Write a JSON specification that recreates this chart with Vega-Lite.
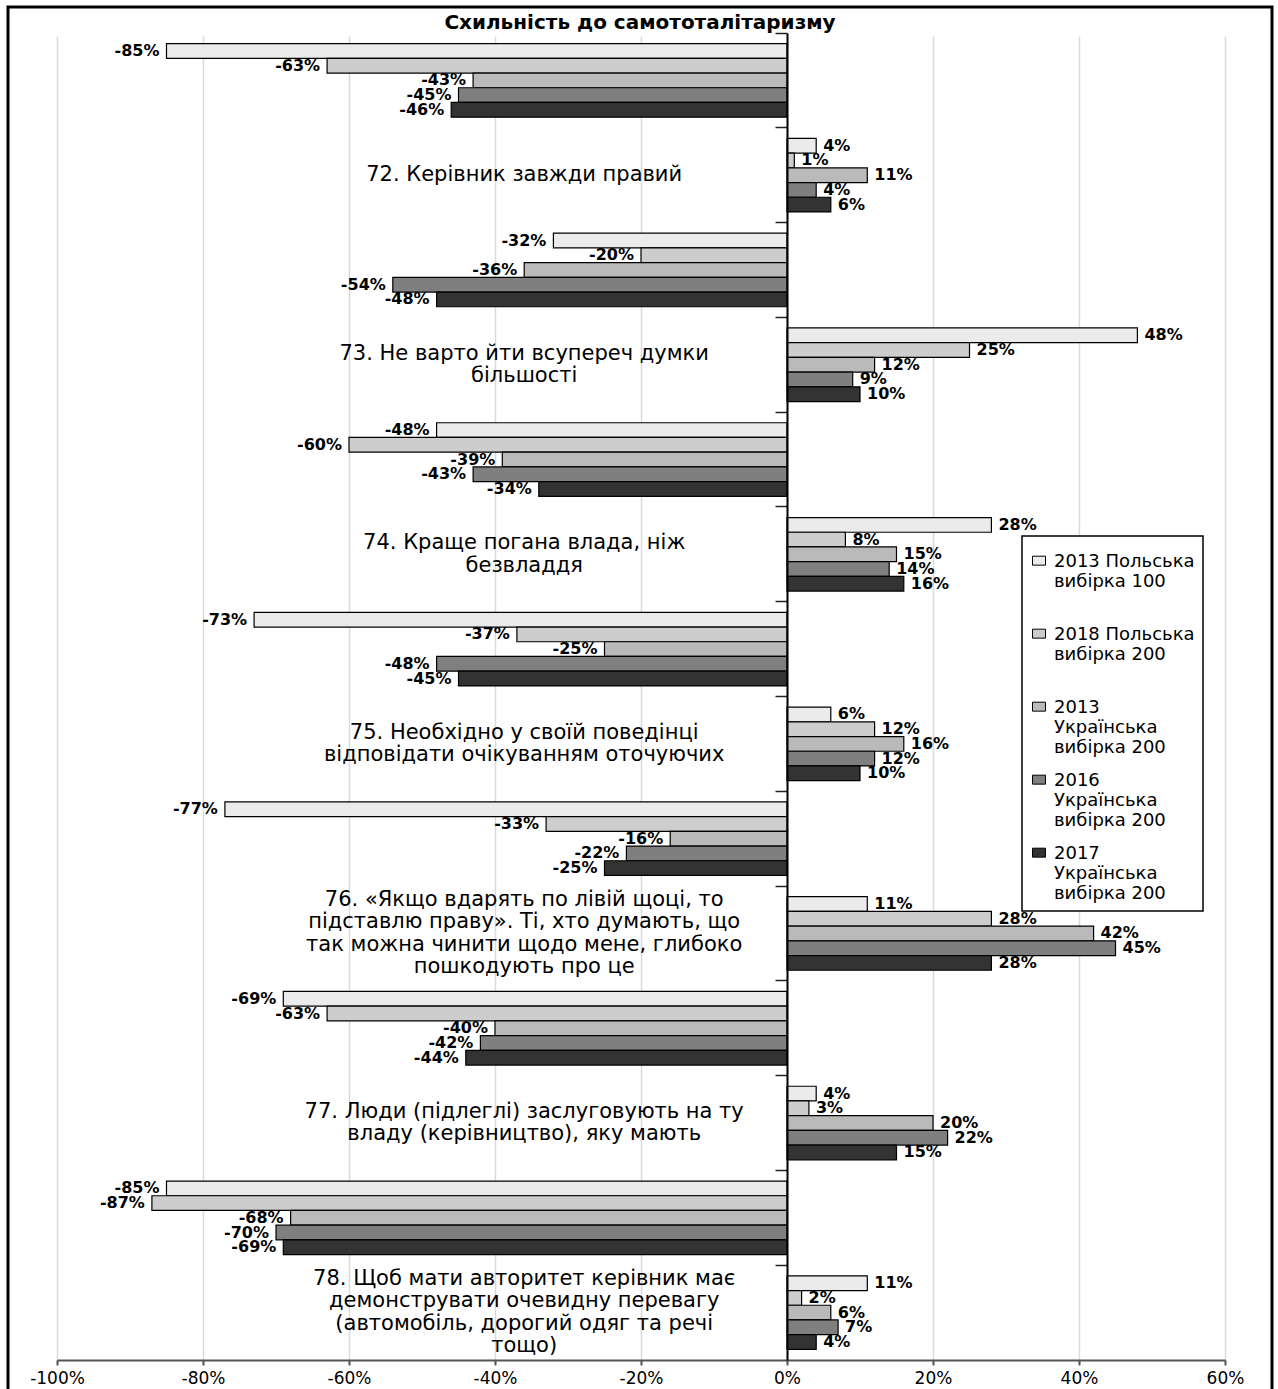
{
  "$schema": "https://vega.github.io/schema/vega-lite/v6.json",
  "width": 1264,
  "height": 1382,
  "autosize": {"type": "none"},
  "padding": {"left": 8, "top": 7, "right": 6, "bottom": 0},
  "background": "white",
  "title": {
    "text": "Схильність до самототалітаризму",
    "font": "DejaVu Sans",
    "fontSize": 20,
    "fontWeight": "bold",
    "color": "black",
    "anchor": "middle",
    "frame": "group",
    "offset": -26
  },
  "config": {
    "view": {"stroke": "black", "strokeWidth": 3, "strokeDash": [2646, 1264, 1382]},
    "locale": {"number": {"decimal": ".", "thousands": ",", "grouping": [3], "currency": ["$", ""], "minus": "-"}},
    "legend": {
      "strokeColor": "black",
      "strokeWidth": 1.5,
      "fillColor": "white",
      "padding": 8,
      "symbolType": "M-1,0.49H1V1.87H-1Z",
      "symbolSize": 169,
      "symbolStrokeColor": "black",
      "symbolStrokeWidth": 1,
      "labelFont": "DejaVu Sans",
      "labelFontSize": 18,
      "labelColor": "black",
      "labelBaseline": "top",
      "labelLimit": 400,
      "labelOffset": 6,
      "rowPadding": 6
    }
  },
  "data": {
    "values": [
      {"c": "72-", "s": "2013 Польська вибірка 100", "v": -0.85},
      {"c": "72-", "s": "2018 Польська вибірка 200", "v": -0.63},
      {"c": "72-", "s": "2013 Українська вибірка 200", "v": -0.43},
      {"c": "72-", "s": "2016 Українська вибірка 200", "v": -0.45},
      {"c": "72-", "s": "2017 Українська вибірка 200", "v": -0.46},
      {"c": "72+", "s": "2013 Польська вибірка 100", "v": 0.04},
      {"c": "72+", "s": "2018 Польська вибірка 200", "v": 0.01},
      {"c": "72+", "s": "2013 Українська вибірка 200", "v": 0.11},
      {"c": "72+", "s": "2016 Українська вибірка 200", "v": 0.04},
      {"c": "72+", "s": "2017 Українська вибірка 200", "v": 0.06},
      {"c": "73-", "s": "2013 Польська вибірка 100", "v": -0.32},
      {"c": "73-", "s": "2018 Польська вибірка 200", "v": -0.20},
      {"c": "73-", "s": "2013 Українська вибірка 200", "v": -0.36},
      {"c": "73-", "s": "2016 Українська вибірка 200", "v": -0.54},
      {"c": "73-", "s": "2017 Українська вибірка 200", "v": -0.48},
      {"c": "73+", "s": "2013 Польська вибірка 100", "v": 0.48},
      {"c": "73+", "s": "2018 Польська вибірка 200", "v": 0.25},
      {"c": "73+", "s": "2013 Українська вибірка 200", "v": 0.12},
      {"c": "73+", "s": "2016 Українська вибірка 200", "v": 0.09},
      {"c": "73+", "s": "2017 Українська вибірка 200", "v": 0.10},
      {"c": "74-", "s": "2013 Польська вибірка 100", "v": -0.48},
      {"c": "74-", "s": "2018 Польська вибірка 200", "v": -0.60},
      {"c": "74-", "s": "2013 Українська вибірка 200", "v": -0.39},
      {"c": "74-", "s": "2016 Українська вибірка 200", "v": -0.43},
      {"c": "74-", "s": "2017 Українська вибірка 200", "v": -0.34},
      {"c": "74+", "s": "2013 Польська вибірка 100", "v": 0.28},
      {"c": "74+", "s": "2018 Польська вибірка 200", "v": 0.08},
      {"c": "74+", "s": "2013 Українська вибірка 200", "v": 0.15},
      {"c": "74+", "s": "2016 Українська вибірка 200", "v": 0.14},
      {"c": "74+", "s": "2017 Українська вибірка 200", "v": 0.16},
      {"c": "75-", "s": "2013 Польська вибірка 100", "v": -0.73},
      {"c": "75-", "s": "2018 Польська вибірка 200", "v": -0.37},
      {"c": "75-", "s": "2013 Українська вибірка 200", "v": -0.25},
      {"c": "75-", "s": "2016 Українська вибірка 200", "v": -0.48},
      {"c": "75-", "s": "2017 Українська вибірка 200", "v": -0.45},
      {"c": "75+", "s": "2013 Польська вибірка 100", "v": 0.06},
      {"c": "75+", "s": "2018 Польська вибірка 200", "v": 0.12},
      {"c": "75+", "s": "2013 Українська вибірка 200", "v": 0.16},
      {"c": "75+", "s": "2016 Українська вибірка 200", "v": 0.12},
      {"c": "75+", "s": "2017 Українська вибірка 200", "v": 0.10},
      {"c": "76-", "s": "2013 Польська вибірка 100", "v": -0.77},
      {"c": "76-", "s": "2018 Польська вибірка 200", "v": -0.33},
      {"c": "76-", "s": "2013 Українська вибірка 200", "v": -0.16},
      {"c": "76-", "s": "2016 Українська вибірка 200", "v": -0.22},
      {"c": "76-", "s": "2017 Українська вибірка 200", "v": -0.25},
      {"c": "76+", "s": "2013 Польська вибірка 100", "v": 0.11},
      {"c": "76+", "s": "2018 Польська вибірка 200", "v": 0.28},
      {"c": "76+", "s": "2013 Українська вибірка 200", "v": 0.42},
      {"c": "76+", "s": "2016 Українська вибірка 200", "v": 0.45},
      {"c": "76+", "s": "2017 Українська вибірка 200", "v": 0.28},
      {"c": "77-", "s": "2013 Польська вибірка 100", "v": -0.69},
      {"c": "77-", "s": "2018 Польська вибірка 200", "v": -0.63},
      {"c": "77-", "s": "2013 Українська вибірка 200", "v": -0.40},
      {"c": "77-", "s": "2016 Українська вибірка 200", "v": -0.42},
      {"c": "77-", "s": "2017 Українська вибірка 200", "v": -0.44},
      {"c": "77+", "s": "2013 Польська вибірка 100", "v": 0.04},
      {"c": "77+", "s": "2018 Польська вибірка 200", "v": 0.03},
      {"c": "77+", "s": "2013 Українська вибірка 200", "v": 0.20},
      {"c": "77+", "s": "2016 Українська вибірка 200", "v": 0.22},
      {"c": "77+", "s": "2017 Українська вибірка 200", "v": 0.15},
      {"c": "78-", "s": "2013 Польська вибірка 100", "v": -0.85},
      {"c": "78-", "s": "2018 Польська вибірка 200", "v": -0.87},
      {"c": "78-", "s": "2013 Українська вибірка 200", "v": -0.68},
      {"c": "78-", "s": "2016 Українська вибірка 200", "v": -0.70},
      {"c": "78-", "s": "2017 Українська вибірка 200", "v": -0.69},
      {"c": "78+", "s": "2013 Польська вибірка 100", "v": 0.11},
      {"c": "78+", "s": "2018 Польська вибірка 200", "v": 0.02},
      {"c": "78+", "s": "2013 Українська вибірка 200", "v": 0.06},
      {"c": "78+", "s": "2016 Українська вибірка 200", "v": 0.07},
      {"c": "78+", "s": "2017 Українська вибірка 200", "v": 0.04}
    ]
  },
  "layer": [
    {
      "mark": {"type": "bar", "stroke": "black", "strokeWidth": 1.2},
      "encoding": {
        "y": {
          "field": "c", "type": "nominal",
          "scale": {"domain": ["72-", "72+", "73-", "73+", "74-", "74+", "75-", "75+", "76-", "76+", "77-", "77+", "78-", "78+"], "range": [26, 1353], "paddingInner": 0, "paddingOuter": 0},
          "axis": {"title": null, "labels": false, "offset": -779, "bandPosition": 0, "tickSize": 12, "tickColor": "#222222", "tickWidth": 1.5, "domainColor": "black", "domainWidth": 2, "grid": false, "zindex": 2}
        },
        "yOffset": {
          "field": "s", "type": "nominal",
          "scale": {"domain": ["2013 Польська вибірка 100", "2018 Польська вибірка 200", "2013 Українська вибірка 200", "2016 Українська вибірка 200", "2017 Українська вибірка 200"], "paddingOuter": 0.72, "paddingInner": 0}
        },
        "x": {
          "field": "v", "type": "quantitative",
          "scale": {"domain": [-1, 0.6], "range": [49, 1217], "nice": false},
          "axis": {"title": null, "values": [-1, -0.8, -0.6, -0.4, -0.2, 0, 0.2, 0.4, 0.6], "format": ".0%", "offset": -29, "grid": true, "gridColor": "#dadada", "gridWidth": 1.5, "domainColor": "#555555", "domainWidth": 2, "tickColor": "#555555", "tickSize": 5, "tickWidth": 2, "labelFont": "DejaVu Sans", "labelFontSize": 17, "labelColor": "black", "labelPadding": 5, "labelFlush": false, "labelOverlap": false, "zindex": 0}
        },
        "color": {
          "field": "s", "type": "nominal",
          "scale": {"domain": ["2013 Польська вибірка 100", "2018 Польська вибірка 200", "2013 Українська вибірка 200", "2016 Українська вибірка 200", "2017 Українська вибірка 200"], "range": ["#ebebeb", "#cdcdcd", "#bababa", "#7f7f7f", "#333333"]},
          "legend": {
            "title": null,
            "orient": "none",
            "legendX": 1014,
            "legendY": 529,
            "labelExpr": "indexof(datum.label,'Укр')>0 ? [slice(datum.label,0,4), slice(datum.label,5,indexof(datum.label,' вибірка')), slice(datum.label,indexof(datum.label,' вибірка')+1)] : [slice(datum.label,0,indexof(datum.label,' вибірка')), slice(datum.label,indexof(datum.label,' вибірка')+1), '']"
          }
        }
      }
    },
    {
      "transform": [{"filter": "datum.v < 0"}],
      "mark": {"type": "text", "align": "right", "baseline": "middle", "dx": -7, "font": "DejaVu Sans", "fontWeight": "bold", "fontSize": 16, "color": "black"},
      "encoding": {
        "y": {"field": "c", "type": "nominal"},
        "yOffset": {"field": "s", "type": "nominal"},
        "x": {"field": "v", "type": "quantitative"},
        "text": {"field": "v", "type": "quantitative", "format": ".0%"}
      }
    },
    {
      "transform": [{"filter": "datum.v >= 0"}],
      "mark": {"type": "text", "align": "left", "baseline": "middle", "dx": 7, "font": "DejaVu Sans", "fontWeight": "bold", "fontSize": 16, "color": "black"},
      "encoding": {
        "y": {"field": "c", "type": "nominal"},
        "yOffset": {"field": "s", "type": "nominal"},
        "x": {"field": "v", "type": "quantitative"},
        "text": {"field": "v", "type": "quantitative", "format": ".0%"}
      }
    },
    {
      "data": {
        "values": [
          {"c": "72+", "label": "72. Керівник завжди правий"},
          {"c": "73+", "label": "73. Не варто йти всупереч думки\nбільшості"},
          {"c": "74+", "label": "74. Краще погана влада, ніж\nбезвладдя"},
          {"c": "75+", "label": "75. Необхідно у своїй поведінці\nвідповідати очікуванням оточуючих"},
          {"c": "76+", "label": "76. «Якщо вдарять по лівій щоці, то\nпідставлю праву». Ті, хто думають, що\nтак можна чинити щодо мене, глибоко\nпошкодують про це"},
          {"c": "77+", "label": "77. Люди (підлеглі) заслуговують на ту\nвладу (керівництво), яку мають"},
          {"c": "78+", "label": "78. Щоб мати авторитет керівник має\nдемонструвати очевидну перевагу\n(автомобіль, дорогий одяг та речі\nтощо)"}
        ]
      },
      "mark": {
        "type": "text", "align": "center", "baseline": "middle", "lineBreak": "\n",
        "font": "DejaVu Sans", "fontSize": 21, "lineHeight": 22.5, "color": "black",
        "dy": {"expr": "-(length(split(datum.label, '\\n')) - 1) * 11.25"}
      },
      "encoding": {
        "y": {"field": "c", "type": "nominal"},
        "x": {"datum": -0.36, "type": "quantitative"},
        "text": {"field": "label", "type": "nominal"}
      }
    }
  ]
}
